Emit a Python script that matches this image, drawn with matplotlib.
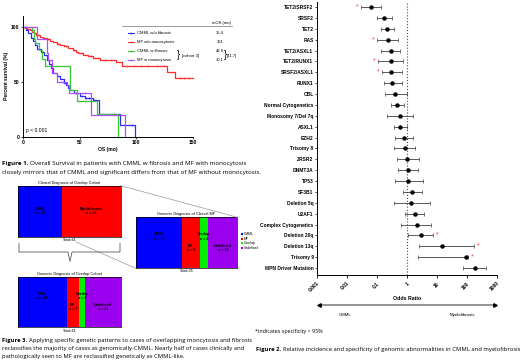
import matplotlib
matplotlib.use("Agg")
import matplotlib.pyplot as plt
import numpy as np

W, H = 520, 361
plt.rcParams['font.family'] = ['Liberation Sans', 'DejaVu Sans']

# ---- Figure 1: overall survival (Kaplan-Meier) ----
km_names = ['CMML w/o fibrosis', 'MF w/o monocytosis', 'CMML w fibrosis', 'MF w monocytosis']
km_colors = ['#2b2bff', '#ff2a2a', '#33cc33', '#b04dff']
mos_values = ['35.4', '161', '42.8', '30.1']

blue_t = [0, 3, 5, 7, 9, 11, 13, 16, 19, 21, 23, 25, 27, 30, 33, 36, 38, 40, 42, 45, 50, 55, 62, 67, 85.5, 98.5]
blue_s = [100, 97, 94, 90, 87, 83, 80, 77, 74, 70, 66, 62, 58, 55, 52, 49, 47, 44, 42, 40, 37, 35, 33, 21, 10.6, 0]
red_t = [0, 2, 4, 6, 8, 10, 12, 15, 18, 21, 24, 27, 30, 33, 36, 40, 44, 47, 49, 53, 57, 62, 68, 75, 82, 87, 126.5, 134, 150]
red_s = [100, 99, 98, 97, 95, 94, 92.5, 91, 90, 88.5, 87, 86, 84.5, 83, 82, 80.5, 79, 77, 76, 74, 73, 71.5, 70, 69.5, 68, 64, 59, 53.6, 53.6]
green_t = [0, 8, 9.5, 11, 14, 17, 20, 41.5, 47.5, 65.6, 83.5]
green_s = [100, 97, 89, 85, 79, 71, 64, 42, 32, 21, 0]
purple_t = [0, 12.5, 21, 22.5, 25.5, 30, 38.7, 41, 60, 90]
purple_s = [100, 89, 76, 70, 58, 50, 47, 39.4, 19.7, 0]

blue_cens = [47, 52, 56, 58, 60, 63, 80, 96]
red_cens = [14, 22, 31, 38, 45, 52, 60, 66, 72, 78, 92, 98, 104, 110, 118, 124, 138, 142, 146]
green_cens = [30, 55]
purple_cens = [35, 55]

# ---- Figure 2: odds ratios ----
genes = ['TET2/SRSF2', 'SRSF2', 'TET2', 'RAS', 'TET2/ASXL1', 'TET2/RUNX1', 'SRSF2/ASXL1',
         'RUNX1', 'CBL', 'Normal Cytogenetics', 'Monosomy 7/Del 7q', 'ASXL1', 'EZH2',
         'Trisomy 8', 'ZRSR2', 'DNMT3A', 'TP53', 'SF3B1', 'Deletion 5q', 'U2AF1',
         'Complex Cytogenetics', 'Deletion 20q', 'Deletion 13q', 'Trisomy 9', 'MPN Driver Mutation']
odds = [0.062, 0.175, 0.215, 0.227, 0.286, 0.29, 0.29, 0.32, 0.41, 0.48, 0.60, 0.60, 0.79,
        0.86, 1.02, 1.08, 1.08, 1.5, 1.36, 1.8, 2.1, 3.0, 15, 95, 180]
ci_lo = [0.030, 0.10, 0.14, 0.10, 0.14, 0.11, 0.143, 0.167, 0.185, 0.30, 0.215, 0.38, 0.41,
         0.38, 0.45, 0.51, 0.39, 0.72, 0.37, 0.84, 0.65, 1.08, 2.6, 2.3, 75]
ci_hi = [0.136, 0.316, 0.36, 0.51, 0.57, 0.72, 0.70, 0.66, 0.98, 0.78, 1.63, 0.98, 1.58,
         1.9, 2.45, 2.4, 3.4, 3.16, 5.7, 3.8, 6.5, 7.2, 167, 110, 430]
specific = [1, 0, 0, 1, 0, 1, 1, 0, 0, 0, 0, 0, 0, 0, 0, 0, 0, 0, 0, 0, 0, 1, 1, 1, 0]
or_ticks = [0.001, 0.01, 0.1, 1, 10, 100, 1000]
or_ticklabels = ['0.001', '0.01', '0.1', '1', '10', '100', '1000']

# ---- Figure 3: diagnosis mosaics ----
geno_cats = ['CMML', 'MF', 'Overlap', 'Undefined']
geno_colors = ['#0000ff', '#ff0000', '#00ee00', '#9a00ee']
clin_cats = ['CMML', 'Myelofibrosis']
clin_counts = [26, 35]
mf_geno_counts = [16, 6, 3, 10]
cohort_geno_counts = [29, 7, 4, 21]


fig = plt.figure(figsize=(W / 100, H / 100), dpi=100)


def px_axes(x0, y0, x1, y1):
    return fig.add_axes([x0 / W, 1 - y1 / H, (x1 - x0) / W, (y1 - y0) / H])


# overlay in pixel units for captions, braces, connectors
ov = px_axes(0, 0, W, H)
ov.set_xlim(0, W)
ov.set_ylim(H, 0)
ov.axis('off')
ov.set_zorder(10)

# ---------------- survival plot ----------------
ax1 = px_axes(22.7, 15.7, 193.3, 136.7)
for t, s, c, cens in [(blue_t, blue_s, km_colors[0], blue_cens),
                      (red_t, red_s, km_colors[1], red_cens),
                      (green_t, green_s, km_colors[2], green_cens),
                      (purple_t, purple_s, km_colors[3], purple_cens)]:
    ax1.step(t, s, where='post', color=c, lw=0.9, clip_on=False)
    idx = np.searchsorted(t, cens, side='right') - 1
    ax1.plot(cens, np.array(s)[idx], ls='none', marker='|', ms=1.8, mew=0.5, color=c)
ax1.set_xlim(0, 150)
ax1.set_ylim(0, 110)
ax1.set_xticks([0, 50, 100, 150])
ax1.set_yticks([0, 50, 100])
ax1.tick_params(labelsize=3.6, length=1.5, width=0.5, pad=1)
for lab in ax1.get_xticklabels() + ax1.get_yticklabels():
    lab.set_fontweight('bold')
for sp in ['top', 'right']:
    ax1.spines[sp].set_visible(False)
for sp in ['left', 'bottom']:
    ax1.spines[sp].set_linewidth(0.7)
ax1.set_xlabel('OS (mo)', fontsize=3.6, fontweight='bold', labelpad=1.5)
ax1.set_ylabel('Percent survival (%)', fontsize=3.6, fontweight='bold', labelpad=1)
ax1.text(3, 4, 'p < 0.001', fontsize=3.6)

# legend of survival plot
ov.plot([121.7, 231.7], [26, 26], color='0.45', lw=0.5)
ov.text(221, 22.7, 'mOS (mo)', fontsize=3, ha='center', va='center')
for i, (name, c, val) in enumerate(zip(km_names, km_colors, mos_values)):
    y = 32.7 + i * 9
    ov.plot([127.7, 133.5], [y, y], color=c, lw=0.8)
    ov.plot([130.6], [y], marker='|', ms=1.8, mew=0.5, color=c)
    ov.text(136.7, y, name, fontsize=3, va='center')
    ov.text(220, y, val, fontsize=3, va='center', ha='center')
ov.text(176.5, 55.5, '}', fontsize=7, va='center', ha='left', fontweight='light')
ov.text(181.7, 55.7, '[cohort 3]', fontsize=3, va='center')
ov.text(223.5, 55.5, '}', fontsize=7, va='center', ha='left', fontweight='light')
ov.text(227, 55.7, '[41.7]', fontsize=3, va='center')

# ---------------- forest plot ----------------
n = len(genes)
ax2 = px_axes(317, 2, 497, 275.3)
ypos = np.arange(n)
ax2.errorbar(odds, ypos, xerr=[np.array(odds) - np.array(ci_lo), np.array(ci_hi) - np.array(odds)],
             fmt='o', color='black', ecolor='0.25', elinewidth=0.6, capsize=1.2, capthick=0.5,
             ms=2.2, zorder=3)
ax2.axvline(1, color='#3333ff', ls=':', lw=0.8, zorder=2)
for i in range(n):
    if specific[i]:
        if odds[i] < 1:
            ax2.annotate('*', (ci_lo[i], i), xytext=(-2.6, 0), textcoords='offset points',
                         ha='center', va='center', color='#ff3333', fontsize=5)
        else:
            ax2.annotate('*', (ci_hi[i], i), xytext=(3.2, 0), textcoords='offset points',
                         ha='center', va='center', color='#ff3333', fontsize=5)
ax2.set_xscale('log')
ax2.set_xlim(0.001, 1000)
ax2.set_ylim(24.67, -0.46)
ax2.set_yticks(ypos)
ax2.set_yticklabels(genes, fontsize=3.5, fontweight='bold')
ax2.set_xticks(or_ticks)
ax2.set_xticklabels(or_ticklabels, fontsize=3.5, fontweight='bold', rotation=45, ha='right',
                    rotation_mode='anchor')
ax2.tick_params(axis='y', length=1.5, width=0.5, pad=1)
ax2.tick_params(axis='x', which='major', length=2, width=0.6, pad=2)
ax2.tick_params(axis='x', which='minor', length=1, width=0.4)
for sp in ['top', 'right']:
    ax2.spines[sp].set_visible(False)
for sp in ['left', 'bottom']:
    ax2.spines[sp].set_linewidth(0.7)
ax2.set_xlabel('Odds Ratio', fontsize=3.8, fontweight='bold', labelpad=2)

ov.plot([320, 493], [304.5, 304.5], color='0.55', lw=1.3)
ov.plot([318.5], [304.5], marker='<', ms=2.5, color='black')
ov.plot([494.5], [304.5], marker='>', ms=2.5, color='black')
ov.text(345, 315, 'CMML', fontsize=3.2, ha='center', va='center')
ov.text(462, 315, 'Myelofibrosis', fontsize=3.2, ha='center', va='center')


# ---------------- mosaics ----------------
def mosaic(box, counts, colors, cats, label_dy, title, total_xy):
    ax = px_axes(*box)
    left = np.concatenate([[0], np.cumsum(counts)[:-1]])
    ax.barh([0], counts, left=left, height=1, color=colors, edgecolor='none')
    ax.set_xlim(0, sum(counts))
    ax.set_ylim(0.5, -0.5)
    ax.set_xticks([])
    ax.set_yticks([])
    for sp in ax.spines.values():
        sp.set_linewidth(0.5)
    for cat, l, c, dy in zip(cats, left, counts, label_dy):
        ax.text(l + c / 2, dy, f'{cat}\nn = {c}', fontsize=2.6, fontweight='bold',
                ha='center', va='center', linespacing=1.2)
    ax.set_title(title, fontsize=2.8, pad=1.5)
    ov.text(total_xy[0], total_xy[1], f'Total={sum(counts)}', fontsize=2.6, ha='center', va='center')
    return ax


mosaic((18.3, 185.7, 120.7, 236.7), clin_counts, geno_colors[:2], clin_cats, [0, 0],
       'Clinical Diagnosis of Overlap Cohort', (69.5, 240.3))
mosaic((135.7, 217.3, 237.3, 268.3), mf_geno_counts, geno_colors, geno_cats,
       [-0.12, 0.1, -0.12, 0.1], 'Genomic Diagnosis of Clinical MF', (187.3, 271.5))
mosaic((18.3, 276.7, 120.7, 327.3), cohort_geno_counts, geno_colors, geno_cats,
       [-0.12, 0.1, -0.12, 0.1], 'Genomic Diagnosis of Overlap Cohort', (69.5, 330.5))

# connectors
ov.plot([120.7, 237.3], [185.7, 217.3], color='0.6', lw=0.5)
ov.plot([76, 135.7], [242, 268.3], color='0.6', lw=0.5)
# brace under clinical block
ov.plot([19, 19, 68, 70, 72, 120, 120], [243.5, 252, 252, 261.5, 252, 252, 243.5], color='0.35', lw=0.6)

# mosaic legend (clipped at right edge like the reference)
axl = px_axes(239, 229, 258, 252)
axl.axis('off')
axl.set_xlim(239, 258)
axl.set_ylim(252, 229)
for i, (cat, c) in enumerate(zip(geno_cats, geno_colors)):
    y = 234.3 + i * 4.45
    axl.plot([241.5], [y], marker='s', ms=1.8, color=c, mew=0)
    axl.text(244, y, cat, fontsize=2.4, va='center', clip_on=True)

# ---------------- captions ----------------
r = fig.canvas.get_renderer()
cap_font = ['Open Sans', 'DejaVu Sans']


def fit_size(txt, width, bold=False):
    t = ov.text(0, 0, txt, fontsize=10, fontweight='bold' if bold else 'normal', family=cap_font)
    w = t.get_window_extent(r).width
    t.remove()
    return 10 * width / w


def caption(x, y, bold, rest, size):
    t = ov.text(x, y, bold, fontsize=size, fontweight='bold', va='center', family=cap_font)
    bb = t.get_window_extent(r)
    ov.text(bb.x1 + size * 0.35, y, rest, fontsize=size, va='center', family=cap_font)


s1 = fit_size('Figure 1. Overall Survival in patients with CMML w fibrosis and MF with monocytosis', 246)
caption(2, 163.3, 'Figure 1.', 'Overall Survival in patients with CMML w fibrosis and MF with monocytosis', s1)
ov.text(2, 172.7, 'closely mirrors that of CMML and significant differs from that of MF without monocytosis.',
        fontsize=s1, va='center', family=cap_font)
s3 = fit_size('Figure 3. Applying specific genetic patterns to cases of overlapping moncytosis and fibrosis', 247)
caption(2, 340.7, 'Figure 3.', 'Applying specific genetic patterns to cases of overlapping moncytosis and fibrosis', s3)
ov.text(2, 348.7, 'reclassifies the majority of cases as genomically-CMML. Nearly half of cases clinically and',
        fontsize=s3, va='center', family=cap_font)
ov.text(2, 356.7, 'pathologically seen to MF are reclassified genetically as CMML-like.',
        fontsize=s3, va='center', family=cap_font)
s_note = fit_size('*indicates specificity > 95%', 68)
ov.text(255, 331, '*indicates specificity > 95%', fontsize=s_note, va='center', family=cap_font)
s2 = fit_size('Figure 2. Relative incidence and specificity of genomic abnormalities in CMML and myelofibrosis.', 262)
caption(256, 349, 'Figure 2.', 'Relative incidence and specificity of genomic abnormalities in CMML and myelofibrosis.', s2)

fig.savefig('out.png', dpi=100)
